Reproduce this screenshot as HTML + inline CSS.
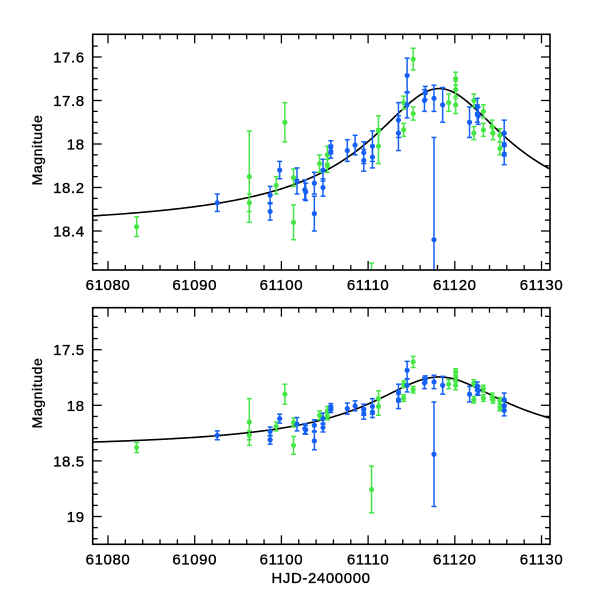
<!DOCTYPE html>
<html><head><meta charset="utf-8"><style>
html,body{margin:0;padding:0;background:#fff;}
svg text{font-family:"Liberation Sans",sans-serif;letter-spacing:0.6px;stroke:#000;stroke-width:0.35px;}
</style></head><body>
<svg id="chart" width="600" height="600" xmlns="http://www.w3.org/2000/svg"></svg>
<script>
const times = [61083.3,61092.6,61096.3,61096.3,61098.7,61098.7,61099.4,61099.8,61100.4,61101.4,61101.4,61101.8,61102.7,61102.8,61103.8,61103.8,61104.4,61104.8,61104.8,61105.3,61105.3,61105.7,61105.7,61107.6,61108.5,61109.5,61109.5,61110.5,61110.5,61110.4,61111.2,61111.2,61113.5,61113.5,61114.1,61114.1,61114.5,61114.5,61115.2,61115.2,61116.5,61116.6,61117.6,61117.6,61118.6,61119.3,61120.1,61120.1,61120.1,61121.7,61122.2,61122.2,61122.6,61122.6,61122.7,61123.3,61123.3,61124.3,61124.4,61125.2,61125.2,61125.7,61125.7,61125.7];
const mags = [18.38,18.27,18.15,18.27,18.235,18.31,18.19,18.12,17.90,18.155,18.36,18.17,18.21,18.22,18.18,18.32,18.09,18.12,18.20,18.05,18.10,18.015,18.035,18.03,18.005,18.04,18.075,18.01,18.06,18.757,17.94,18.01,17.89,17.95,17.81,17.935,17.685,17.82,17.61,17.86,17.80,17.765,17.79,18.44,17.82,17.81,17.70,17.75,17.82,17.90,17.80,17.95,17.83,17.86,17.87,17.85,17.935,17.92,17.95,17.96,18.02,17.95,18.005,18.045];
const errs = [0.045,0.04,0.21,0.04,0.04,0.04,0.04,0.04,0.09,0.04,0.08,0.06,0.045,0.04,0.05,0.08,0.04,0.05,0.04,0.04,0.03,0.03,0.03,0.05,0.045,0.05,0.05,0.07,0.05,0.21,0.07,0.08,0.08,0.08,0.03,0.03,0.08,0.06,0.05,0.03,0.05,0.03,0.06,0.47,0.08,0.04,0.03,0.04,0.04,0.07,0.03,0.03,0.04,0.04,0.04,0.03,0.03,0.03,0.03,0.03,0.03,0.06,0.05,0.05];
const bands = ["g","b","g","g","b","b","g","b","g","g","g","b","b","b","b","b","g","b","b","g","g","b","b","b","b","b","b","b","b","g","g","g","b","b","g","g","b","b","g","g","b","b","b","b","b","g","g","g","g","b","g","g","b","b","b","g","g","g","g","g","g","b","b","b"];
const xTicks = [61080,61090,61100,61110,61120,61130];
const topTicks = [17.6,17.8,18,18.2,18.4];
const botTicks = [17.5,18,18.5,19];
const model = {t0:61118.2, base:18.40, amp:0.828, w:7.53, p:0.75};

const NS="http://www.w3.org/2000/svg";
const svg=document.getElementById('chart');
function el(tag,attrs,parent){const e=document.createElementNS(NS,tag);for(const k in attrs)e.setAttribute(k,attrs[k]);(parent||svg).appendChild(e);return e;}
const xL=92.7,xR=550, tMin=61078.3,tMax=61131.0;
const xs=t=>108+(t-61080)*8.67;
function modelMag(t){const dt=t-model.t0;const ex=model.amp/Math.pow(1+(dt/model.w)**2,model.p);return model.base-2.5*Math.log10(1+ex);}
const panels=[
 {name:'top',top:34.3,bot:270,ys:v=>144+(v-18)*217.5,ticks:topTicks,minor:0.05,lo:17.49,hi:18.58,labY:150},
 {name:'bottom',top:307.7,bot:544.3,ys:v=>405.3+(v-18)*111.2,ticks:botTicks,minor:0.1,lo:17.12,hi:19.25,labY:393}
];
const blue="#1560f5",green="#47e647";
panels.forEach((P,pi)=>{
 const g=el('g',{});
 
 
 const cid='clip'+pi;
 const cp=el('clipPath',{id:cid},g);el('rect',{x:xL,y:P.top,width:xR-xL,height:P.bot-P.top},cp);
 const plot=el('g',{'clip-path':'url(#'+cid+')'},g);
 let d='';for(let t=tMin;t<=tMax;t+=0.2){d+=(d?'L':'M')+xs(t).toFixed(2)+','+P.ys(modelMag(t)).toFixed(2);}
 const c=el('path',{d:d,fill:'none',stroke:'#000','stroke-width':1.6},plot);
 
 
 times.forEach((t,i)=>{
  const col=bands[i]==='b'?blue:green;
  const x=xs(t),y=P.ys(mags[i]),y1=P.ys(mags[i]-errs[i]),y2=P.ys(mags[i]+errs[i]);
  const pg=el('g',{stroke:col,fill:col,'stroke-width':1.5},plot);
  
  
  el('line',{x1:x,x2:x,y1:y1,y2:y2},pg);
  el('line',{x1:x-2.5,x2:x+2.5,y1:y1,y2:y1},pg);
  el('line',{x1:x-2.5,x2:x+2.5,y1:y2,y2:y2},pg);
  el('circle',{cx:x,cy:y,r:2.6,stroke:'none'},pg);
 });
 const fr=el('rect',{x:xL,y:P.top,width:xR-xL,height:P.bot-P.top,fill:'none',stroke:'#000','stroke-width':1.6},g);
 
 
 for(let t=61080;t<=61130;t+=2){const x=xs(t);const L=(t%10===0)?9:5;
  el('line',{x1:x,x2:x,y1:P.bot,y2:P.bot-L,stroke:'#000','stroke-width':1.3},g);
  el('line',{x1:x,x2:x,y1:P.top,y2:P.top+L,stroke:'#000','stroke-width':1.3},g);}
 xTicks.forEach(t=>{const tx=el('text',{x:xs(t),y:P.bot+20,'text-anchor':'middle','font-size':15},g);tx.textContent=t;
  
  });
 const n0=Math.ceil(P.lo/P.minor),n1=Math.floor(P.hi/P.minor);
 for(let k=n0;k<=n1;k++){const v=k*P.minor;const y=P.ys(v);if(y<P.top+1||y>P.bot-1)continue;
  const major=P.ticks.some(m=>Math.abs(m-v)<1e-6);const L=major?9:5;
  el('line',{x1:xL,x2:xL+L,y1:y,y2:y,stroke:'#000','stroke-width':1.3},g);
  el('line',{x1:xR,x2:xR-L,y1:y,y2:y,stroke:'#000','stroke-width':1.3},g);}
 P.ticks.forEach(v=>{const tx=el('text',{x:xL-8,y:P.ys(v)+5.5,'text-anchor':'end','font-size':15},g);tx.textContent=String(v);
  
  });
 const yl=el('text',{x:0,y:0,transform:'translate(42,'+P.labY+') rotate(-90)','text-anchor':'middle','font-size':14},g);
 yl.textContent='Magnitude';
 
 
});
const xl=el('text',{x:321,y:583,'text-anchor':'middle','font-size':15});
xl.textContent='HJD-2400000';


</script>
</body></html>
